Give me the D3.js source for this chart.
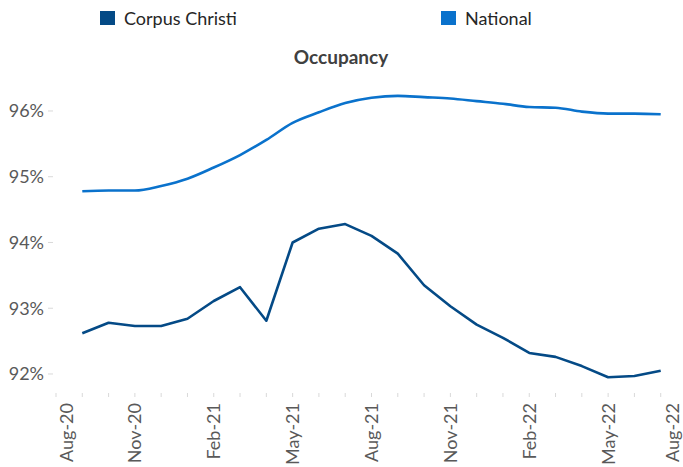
<!DOCTYPE html>
<html>
<head>
<meta charset="utf-8">
<title>Occupancy</title>
<script src="https://cdn.jsdelivr.net/npm/d3@7"></script>
<style>
  body { margin: 0; background: #fff; }
  text { font-family: Lato, "Open Sans", sans-serif; }
</style>
</head>
<body>
<div id="chart"></div>
<script>
// months on the axis, Aug-20 .. Aug-22
var months = ["Aug-20","Sep-20","Oct-20","Nov-20","Dec-20","Jan-21","Feb-21","Mar-21","Apr-21",
  "May-21","Jun-21","Jul-21","Aug-21","Sep-21","Oct-21","Nov-21","Dec-21","Jan-22","Feb-22",
  "Mar-22","Apr-22","May-22","Jun-22","Jul-22","Aug-22"];
var tickLabels = ["Aug-20","Nov-20","Feb-21","May-21","Aug-21","Nov-21","Feb-22","May-22","Aug-22"];
var yTicks = [92, 93, 94, 95, 96];

// data runs Sep-20 .. Jul-22
var dataMonths = months.slice(1, 24);
var corpusChristi = [92.62, 92.78, 92.73, 92.73, 92.84, 93.11, 93.32, 92.81, 94.00, 94.21, 94.28,
  94.10, 93.83, 93.35, 93.03, 92.75, 92.55, 92.32, 92.26, 92.12, 91.95, 91.97, 92.05];
var national = [94.78, 94.79, 94.79, 94.86, 94.97, 95.14, 95.33, 95.56, 95.82, 95.98, 96.12,
  96.20, 96.23, 96.21, 96.19, 96.15, 96.11, 96.06, 96.05, 95.99, 95.96, 95.96, 95.95];

var W = 683, H = 467;
var svg = d3.select("#chart").append("svg").attr("width", W).attr("height", H);

var x = d3.scaleLinear().domain([0, months.length - 1]).range([56, 687]);
var y = d3.scaleLinear().domain([91.7, 96.5]).range([393.7, 78.1]);

// y axis labels + small tick marks
svg.selectAll(".ytick").data(yTicks).enter().append("line")
  .attr("x1", 48).attr("x2", 53)
  .attr("y1", function (d) { return y(d); }).attr("y2", function (d) { return y(d); })
  .attr("stroke", "#d9d9d9");
svg.selectAll(".ylab").data(yTicks).enter().append("text")
  .attr("x", 44).attr("y", function (d) { return y(d); })
  .attr("dy", "0.36em")
  .attr("text-anchor", "end")
  .style("font-size", "18px").style("fill", "#595959")
  .text(function (d) { return d + "%"; });

// x axis: a small tick at every month
svg.selectAll(".xtick").data(months.slice(0, 24)).enter().append("line")
  .attr("x1", function (d, i) { return x(i); }).attr("x2", function (d, i) { return x(i); })
  .attr("y1", 393).attr("y2", 397)
  .attr("stroke", "#d9d9d9");

// rotated labels, kept inside the picture like Excel does
svg.selectAll(".xlab").data(tickLabels).enter().append("text")
  .attr("transform", function (d) {
    var px = Math.max(67, Math.min(673, x(months.indexOf(d))));
    return "translate(" + px + ",403) rotate(-90)";
  })
  .attr("dy", "0.36em")
  .attr("text-anchor", "end")
  .style("font-size", "18px").style("fill", "#595959")
  .text(function (d) { return d; });

// lines
var line = d3.line()
  .x(function (d, i) { return x(months.indexOf(dataMonths[i])); })
  .y(function (d) { return y(d); });

svg.append("path").datum(national)
  .attr("d", line.curve(d3.curveMonotoneX))
  .attr("fill", "none").attr("stroke", "#0a72cc").attr("stroke-width", 2.6);

svg.append("path").datum(corpusChristi)
  .attr("d", line.curve(d3.curveLinear))
  .attr("fill", "none").attr("stroke", "#044a86").attr("stroke-width", 2.6)
  .attr("stroke-linejoin", "round");

// title
svg.append("text")
  .attr("x", 341).attr("y", 64)
  .attr("text-anchor", "middle")
  .style("font-size", "19px").style("font-weight", "bold").style("fill", "#404040")
  .text("Occupancy");

// legend
var legend = [
  { name: "Corpus Christi", color: "#044a86", x: 100 },
  { name: "National", color: "#0a72cc", x: 441 }
];
var lg = svg.selectAll(".leg").data(legend).enter().append("g")
  .attr("transform", function (d) { return "translate(" + d.x + ",11)"; });
lg.append("rect").attr("width", 15).attr("height", 14)
  .attr("fill", function (d) { return d.color; });
lg.append("text").attr("x", 24).attr("y", 14)
  .style("font-size", "18px").style("fill", "#262626")
  .text(function (d) { return d.name; });
</script>
</body>
</html>
